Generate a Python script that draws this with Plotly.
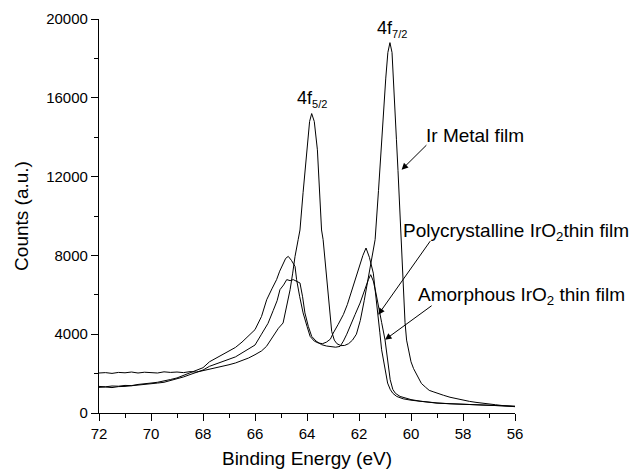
import plotly.graph_objects as go

# Binding energy (eV) and counts
ir_E = [72.0, 71.75, 71.5, 71.25, 71.0, 70.75, 70.5, 70.25, 70.0, 69.75, 69.5, 69.25, 69.0, 68.75, 68.5, 68.25,
        68.0, 67.75, 67.5, 67.25, 67.0, 66.75, 66.5, 66.25, 66.0, 65.75, 65.56, 65.4, 65.25, 65.1, 64.92, 64.8,
        64.65, 64.55, 64.46, 64.34, 64.27, 64.15, 64.0, 63.9, 63.82, 63.72, 63.6, 63.5, 63.44, 63.38, 63.3, 63.2,
        63.12, 63.05, 62.95, 62.85, 62.7, 62.55, 62.4, 62.25, 62.1, 61.95, 61.8, 61.65, 61.5, 61.38, 61.25, 61.13,
        61.05, 60.97, 60.89, 60.81, 60.73, 60.65, 60.56, 60.5, 60.44, 60.38, 60.3, 60.23, 60.17, 60.08, 60.0, 59.9,
        59.8, 59.7, 59.6, 59.45, 59.3, 59.15, 59.0, 58.75, 58.5, 58.25, 58.0, 57.75, 57.5, 57.25, 57.0, 56.75,
        56.5, 56.25, 56.0]
ir_C = [2030, 2050, 2010, 2060, 2040, 2080, 2030, 2070, 2050, 2030, 2090, 2060, 2080, 2050, 2100, 2080,
        2150, 2220, 2290, 2380, 2450, 2540, 2650, 2790, 2960, 3150, 3380, 3700, 4050, 4300, 4570, 5300,
        6260, 7100, 7950, 8800, 9290, 11200, 13360, 14800, 15200, 14800, 13360, 11000, 9290, 8800, 7600, 6300,
        5100, 4140, 3700, 3520, 3420, 3430, 3520, 3700, 4000, 4700, 5700, 6800, 8000, 8800, 11300, 13870,
        15500, 17000, 18300, 18800, 18300, 16500, 13870, 12300, 10500, 8800, 6000, 4600, 3700, 3000, 2600, 2250,
        2000, 1700, 1500, 1320, 1150, 1080, 1000, 900, 800, 720, 650, 590, 540, 490, 450, 420,
        380, 350, 320]

poly_E = [72.0, 71.75, 71.5, 71.25, 71.0, 70.75, 70.5, 70.25, 70.0, 69.75, 69.5, 69.25, 69.0, 68.75, 68.5, 68.25,
          68.0, 67.75, 67.5, 67.25, 67.0, 66.75, 66.5, 66.25, 66.0, 65.75, 65.55, 65.35, 65.17, 65.05, 64.92, 64.82,
          64.72, 64.6, 64.46, 64.4, 64.28, 64.15, 64.0, 63.88, 63.72, 63.56, 63.4, 63.25, 63.1, 62.99, 62.8, 62.6,
          62.45, 62.35, 62.2, 62.08, 61.96, 61.85, 61.73, 61.6, 61.45, 61.35, 61.26, 61.2, 61.13, 61.0, 60.9, 60.8,
          60.7, 60.55, 60.3, 60.0, 59.65, 59.25, 59.0, 58.5, 58.0, 57.73, 57.25, 57.0, 56.5, 56.0]
poly_C = [1350, 1330, 1370, 1360, 1400, 1390, 1450, 1470, 1520, 1560, 1620, 1700, 1780, 1920, 2060, 2180,
          2300, 2600, 2780, 2950, 3150, 3330, 3600, 3900, 4230, 4900, 5750, 6300, 6770, 7200, 7600, 7850,
          7950, 7750, 7440, 6770, 5900, 5080, 4400, 3890, 3650, 3550, 3520, 3600, 3750, 4060, 4500, 5000,
          5500, 5920, 6500, 7100, 7610, 8000, 8375, 7900, 7100, 6000, 4990, 4100, 3210, 2300, 1520, 1200,
          1000, 840, 720, 650, 590, 530, 500, 470, 440, 420, 390, 370, 350, 340]

amor_E = [72.0, 71.75, 71.5, 71.25, 71.0, 70.75, 70.5, 70.25, 70.0, 69.75, 69.5, 69.25, 69.0, 68.75, 68.5, 68.25,
          68.0, 67.75, 67.5, 67.25, 67.0, 66.75, 66.5, 66.25, 66.0, 65.75, 65.5, 65.3, 65.15, 65.04, 64.9, 64.78,
          64.65, 64.53, 64.4, 64.27, 64.17, 64.08, 63.95, 63.82, 63.65, 63.44, 63.25, 63.05, 62.9, 62.73, 62.6, 62.47,
          62.35, 62.15, 61.96, 61.8, 61.64, 61.55, 61.45, 61.35, 61.26, 61.13, 61.0, 60.9, 60.8, 60.7, 60.6, 60.42,
          60.2, 60.0, 59.65, 59.25, 59.0, 58.5, 58.0, 57.5, 57.0, 56.5, 56.0]
amor_C = [1300, 1320, 1290, 1340, 1350, 1380, 1400, 1430, 1460, 1520, 1560, 1640, 1720, 1830, 1950, 2050,
          2180, 2370, 2500, 2620, 2760, 2850, 3050, 3250, 3450, 4000, 4550, 5200, 5700, 6260, 6500, 6770,
          6720, 6770, 6700, 6600, 5900, 5080, 4400, 3890, 3650, 3470, 3400, 3350, 3340, 3380, 3650, 4000,
          4400, 5000, 5580, 6200, 6770, 7020, 6700, 6100, 5410, 4600, 3720, 2700, 1690, 1200, 1000, 840,
          740, 680, 600, 540, 510, 470, 440, 400, 380, 350, 340]

x_ticks = [72, 70, 68, 66, 64, 62, 60, 58, 56]
y_ticks = [0, 4000, 8000, 12000, 16000, 20000]
y_ticktext = ["0", "4000", "8000", "12000", "16000", "20000"]

FONT = "Arial, Liberation Sans, Helvetica, sans-serif"

fig = go.Figure()
for E, C, name in [(ir_E, ir_C, "Ir Metal film"), (poly_E, poly_C, "Polycrystalline IrO2 thin film"),
                   (amor_E, amor_C, "Amorphous IrO2 thin film")]:
    fig.add_trace(go.Scatter(x=E, y=C, mode="lines", name=name,
                             line=dict(color="black", width=1), showlegend=False))

labels = [
    dict(x=63.8, y=15950, text="4f<sub><span style='font-size:11px'>5/2</span></sub>"),
    dict(x=60.73, y=19500, text="4f<sub><span style='font-size:11px'>7/2</span></sub>"),
]
for lab in labels:
    fig.add_annotation(x=lab["x"], y=lab["y"], text=lab["text"], showarrow=False,
                       xanchor="center", yanchor="middle", font=dict(family=FONT, size=18, color="black"))

texts = [
    dict(x=59.5, y=14076, text="Ir Metal film"),
    dict(x=60.38, y=9200, text="Polycrystalline IrO<sub>2</sub>thin film"),
    dict(x=59.8, y=5950, text="Amorphous IrO<sub>2</sub> thin film"),
]
for t in texts:
    fig.add_annotation(x=t["x"], y=t["y"], text=t["text"], showarrow=False,
                       xanchor="left", yanchor="middle", font=dict(family=FONT, size=19, color="black"))

arrows = [
    (59.35, 13670, 60.36, 12350),
    (59.22, 8800, 61.26, 4990),
    (59.15, 5500, 61.0, 3720),
]
for ax_, ay_, x_, y_ in arrows:
    fig.add_annotation(x=x_, y=y_, ax=ax_, ay=ay_, axref="x", ayref="y", xref="x", yref="y",
                       text="", showarrow=True, arrowhead=2, arrowsize=1.3, arrowwidth=1,
                       arrowcolor="black")

fig.update_xaxes(range=[72, 56], tickvals=x_ticks, ticks="outside", ticklen=7, tickwidth=1,
                 tickcolor="black", showline=True, linecolor="black", linewidth=1.3, showgrid=False,
                 zeroline=False, automargin=False,
                 minor=dict(dtick=1, ticks="outside", ticklen=4, tickcolor="black", showgrid=False),
                 title=dict(text="Binding Energy (eV)", font=dict(family=FONT, size=19, color="black"), standoff=10),
                 tickfont=dict(family=FONT, size=15, color="black"))
fig.update_yaxes(range=[0, 20000], tickvals=y_ticks, ticktext=y_ticktext, ticks="outside", ticklen=7, tickwidth=1,
                 tickcolor="black", showline=True, linecolor="black", linewidth=1.3, showgrid=False,
                 zeroline=False, automargin=False,
                 minor=dict(dtick=2000, ticks="outside", ticklen=4, tickcolor="black", showgrid=False),
                 title=dict(text="Counts (a.u.)", font=dict(family=FONT, size=19, color="black"), standoff=12),
                 tickfont=dict(family=FONT, size=15, color="black"))

# page body adds an 8px offset, so the figure is 8px smaller on each axis
fig.update_layout(width=633, height=465, margin=dict(l=91, r=126, t=11, b=60),
                  plot_bgcolor="white", paper_bgcolor="white", showlegend=False)

fig.write_html("out.html")
